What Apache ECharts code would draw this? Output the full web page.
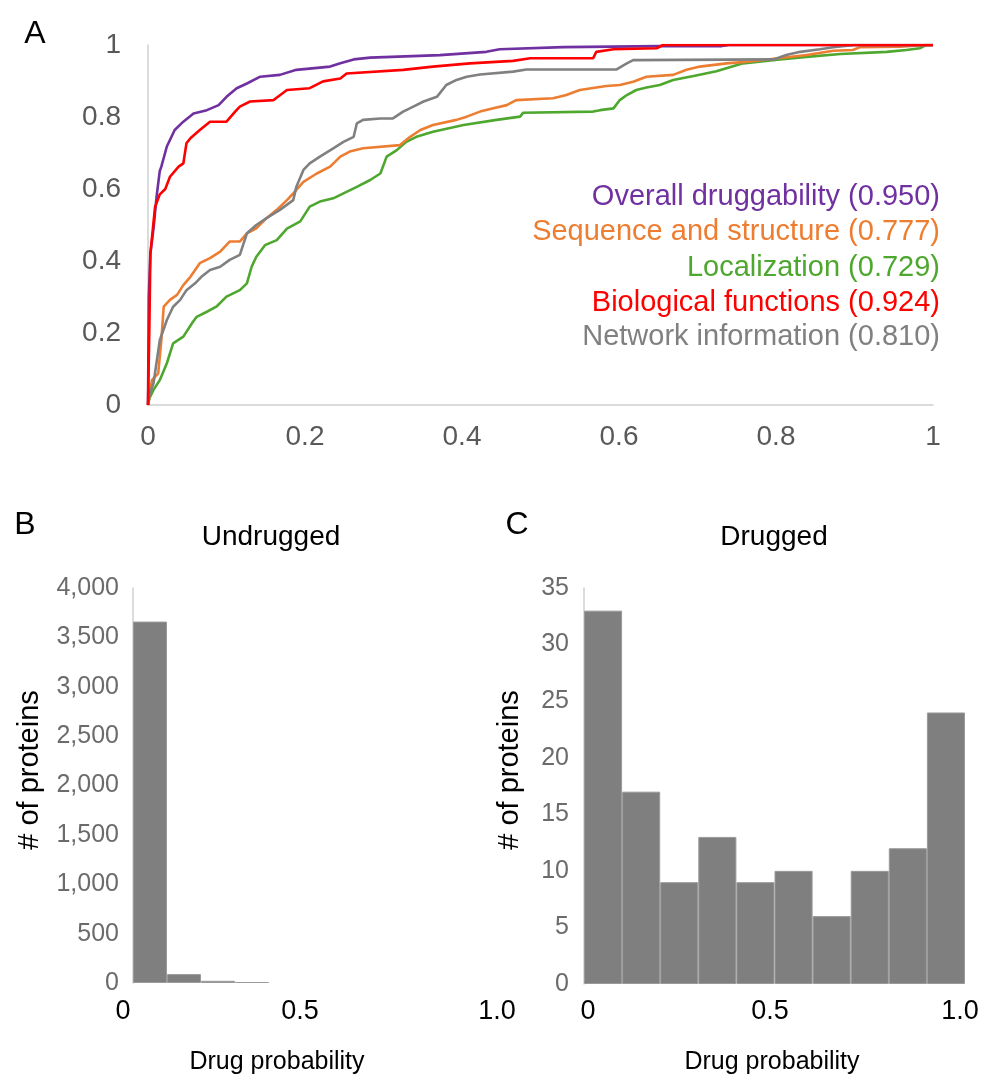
<!DOCTYPE html>
<html><head><meta charset="utf-8">
<script src="https://cdn.jsdelivr.net/npm/echarts@6/dist/echarts.min.js"></script>
<style>html,body{margin:0;padding:0;background:#fff}#c{width:982px;height:1076px}</style>
</head><body><div id="c"></div>
<script>
// ---------- Data ----------
const rocNames = ['Overall druggability', 'Sequence and structure', 'Localization', 'Biological functions', 'Network information'];
const rocAuc = ['0.950', '0.777', '0.729', '0.924', '0.810'];

const overallROC = [[0,0],[0.001,0.30],[0.003,0.42],[0.007,0.49],[0.011,0.58],[0.015,0.65],[0.017,0.662],[0.024,0.718],[0.034,0.764],[0.045,0.787],[0.058,0.81],[0.075,0.819],[0.09,0.833],[0.1,0.856],[0.113,0.88],[0.126,0.893],[0.143,0.912],[0.168,0.917],[0.189,0.931],[0.232,0.94],[0.245,0.949],[0.262,0.96],[0.283,0.965],[0.372,0.972],[0.431,0.981],[0.448,0.988],[0.529,0.994],[0.652,0.997],[0.731,0.997],[0.74,1],[1,1]];
const sequenceROC = [[0,0],[0.002,0.03],[0.005,0.069],[0.013,0.088],[0.017,0.18],[0.02,0.273],[0.028,0.292],[0.037,0.306],[0.045,0.333],[0.054,0.356],[0.066,0.394],[0.079,0.408],[0.092,0.426],[0.104,0.454],[0.117,0.454],[0.126,0.477],[0.138,0.491],[0.151,0.519],[0.164,0.542],[0.177,0.569],[0.185,0.588],[0.198,0.62],[0.215,0.643],[0.232,0.662],[0.245,0.69],[0.257,0.704],[0.274,0.713],[0.321,0.722],[0.334,0.745],[0.347,0.764],[0.363,0.778],[0.393,0.792],[0.406,0.801],[0.423,0.815],[0.44,0.824],[0.457,0.833],[0.469,0.847],[0.516,0.852],[0.533,0.861],[0.55,0.875],[0.584,0.886],[0.601,0.889],[0.618,0.898],[0.635,0.912],[0.669,0.917],[0.686,0.931],[0.703,0.94],[0.737,0.949],[0.767,0.954],[0.839,0.972],[0.873,0.984],[0.898,0.986],[0.907,0.994],[0.958,0.995],[0.991,1],[1,1]];
const localizationROC = [[0,0],[0.002,0.02],[0.007,0.042],[0.015,0.069],[0.024,0.116],[0.032,0.171],[0.045,0.19],[0.056,0.227],[0.062,0.245],[0.075,0.259],[0.087,0.273],[0.1,0.301],[0.117,0.319],[0.126,0.338],[0.132,0.384],[0.138,0.412],[0.149,0.444],[0.164,0.458],[0.177,0.49],[0.194,0.51],[0.206,0.551],[0.219,0.565],[0.236,0.574],[0.249,0.588],[0.266,0.606],[0.283,0.625],[0.296,0.643],[0.304,0.69],[0.317,0.708],[0.329,0.731],[0.342,0.745],[0.363,0.759],[0.402,0.778],[0.444,0.792],[0.474,0.801],[0.478,0.812],[0.567,0.815],[0.576,0.819],[0.593,0.824],[0.601,0.847],[0.61,0.861],[0.622,0.875],[0.635,0.882],[0.652,0.889],[0.669,0.903],[0.695,0.914],[0.724,0.927],[0.758,0.949],[0.805,0.96],[0.839,0.967],[0.882,0.975],[0.941,0.981],[0.966,0.986],[0.983,0.991],[0.991,1],[1,1]];
const biologicalROC = [[0,0],[0.002,0.25],[0.003,0.42],[0.009,0.55],[0.015,0.585],[0.022,0.60],[0.028,0.634],[0.039,0.662],[0.045,0.671],[0.049,0.727],[0.054,0.741],[0.066,0.764],[0.079,0.787],[0.1,0.787],[0.111,0.815],[0.117,0.829],[0.13,0.843],[0.16,0.847],[0.177,0.875],[0.206,0.88],[0.223,0.899],[0.245,0.907],[0.253,0.921],[0.325,0.931],[0.363,0.94],[0.41,0.949],[0.465,0.956],[0.487,0.963],[0.567,0.963],[0.571,0.981],[0.593,0.988],[0.648,0.991],[0.656,1],[1,1]];
const networkROC = [[0,0],[0.002,0.03],[0.007,0.06],[0.015,0.18],[0.024,0.236],[0.032,0.273],[0.041,0.292],[0.049,0.319],[0.06,0.338],[0.068,0.356],[0.079,0.375],[0.092,0.384],[0.104,0.403],[0.117,0.417],[0.126,0.477],[0.138,0.5],[0.151,0.519],[0.168,0.542],[0.185,0.569],[0.189,0.606],[0.198,0.653],[0.206,0.671],[0.219,0.69],[0.236,0.713],[0.249,0.731],[0.262,0.745],[0.266,0.782],[0.274,0.792],[0.296,0.796],[0.312,0.796],[0.325,0.815],[0.338,0.829],[0.351,0.843],[0.368,0.856],[0.38,0.889],[0.393,0.903],[0.406,0.912],[0.423,0.918],[0.465,0.926],[0.482,0.932],[0.597,0.932],[0.61,0.949],[0.618,0.958],[0.797,0.96],[0.813,0.972],[0.831,0.981],[0.856,0.988],[0.873,0.994],[0.9,1],[1,1]];

const histBins = ['0-0.1','0.1-0.2','0.2-0.3','0.3-0.4','0.4-0.5','0.5-0.6','0.6-0.7','0.7-0.8','0.8-0.9','0.9-1.0'];
const undruggedCounts = [3660, 90, 22, 10, 0, 0, 0, 0, 0, 0];
const druggedCounts = [33, 17, 9, 13, 9, 10, 6, 10, 12, 24];
const histXTickLabels = ['0', '0.5', '1.0'];
const panelTitles = ['Undrugged', 'Drugged'];
const histXName = 'Drug probability';
const histYName = '# of proteins';
const panelLetters = ['A', 'B', 'C'];

// ---------- Chart ----------
const FONT = "'Liberation Sans', Arial, Helvetica, sans-serif";
const chart = echarts.init(document.getElementById('c'), null, {renderer: 'canvas'});

const rocData = [overallROC, sequenceROC, localizationROC, biologicalROC, networkROC];
const rocColors = ['#7030a0', '#ed7d31', '#4ea72e', '#ff0000', '#808080'];
const drawOrder = [2, 1, 4, 0, 3];

const rocSeries = drawOrder.map(i => ({
  name: rocNames[i], type: 'line', xAxisIndex: 0, yAxisIndex: 0,
  data: rocData[i], showSymbol: false, symbol: 'none', animation: false,
  lineStyle: {color: rocColors[i], width: 2.6}, z: 3
}));

// empty bins are not drawn (no zero-height outline)
const emptyAsGap = arr => arr.map(v => (v === 0 ? '-' : v));
const barStyle = {color: '#7f7f7f', borderColor: '#9a9a9a', borderWidth: 1};
const histSeries = [
  {type: 'bar', xAxisIndex: 1, yAxisIndex: 1, data: emptyAsGap(undruggedCounts), barCategoryGap: '0%', itemStyle: barStyle, animation: false},
  {type: 'bar', xAxisIndex: 2, yAxisIndex: 2, data: emptyAsGap(druggedCounts), barCategoryGap: '0%', itemStyle: barStyle, animation: false}
];

const axisLineStyle = {color: '#d0d0d0', width: 1.5};
const text = (t, x, y, opts) => ({
  type: 'text', x: x, y: y,
  style: Object.assign({text: t, font: '27px ' + FONT, fill: '#000', textAlign: 'center', textVerticalAlign: 'middle'}, opts || {})
});

const legendY = [197, 232, 268, 303, 337];
const graphics = [];
rocNames.forEach((n, i) => {
  graphics.push(text(n + ' (' + rocAuc[i] + ')', 940, legendY[i], {fill: rocColors[i], textAlign: 'right', font: '29px ' + FONT}));
});
graphics.push(text(panelLetters[0], 35, 34, {font: '32px ' + FONT}));
graphics.push(text(panelLetters[1], 25, 525, {font: '32px ' + FONT}));
graphics.push(text(panelLetters[2], 517, 525, {font: '32px ' + FONT}));
graphics.push(text(panelTitles[0], 271, 537, {font: '28px ' + FONT}));
graphics.push(text(panelTitles[1], 774, 537, {font: '28px ' + FONT}));
graphics.push(text(histXName, 277, 1062, {font: '25px ' + FONT}));
graphics.push(text(histXName, 772, 1062, {font: '25px ' + FONT}));
graphics.push(Object.assign(text(histYName, 30, 770, {font: '29px ' + FONT}), {rotation: Math.PI / 2}));
graphics.push(Object.assign(text(histYName, 510, 770, {font: '29px ' + FONT}), {rotation: Math.PI / 2}));
const bTickX = [123, 300, 497];
const cTickX = [588, 770, 960];
histXTickLabels.forEach((t, i) => {
  graphics.push(text(t, bTickX[i], 1012));
  graphics.push(text(t, cTickX[i], 1012));
});

chart.setOption({
  backgroundColor: '#fff',
  textStyle: {fontFamily: FONT},
  animation: false,
  grid: [
    {left: 148, top: 45, width: 785, height: 360},
    {left: 133, top: 588, width: 340, height: 395},
    {left: 584, top: 588, width: 381, height: 396}
  ],
  xAxis: [
    {gridIndex: 0, type: 'value', min: 0, max: 1, interval: 0.2,
     axisLine: {show: true, lineStyle: axisLineStyle}, axisTick: {show: false}, splitLine: {show: false},
     axisLabel: {color: '#595959', fontSize: 28, margin: 18, fontFamily: FONT}},
    {gridIndex: 1, type: 'category', data: histBins, boundaryGap: true,
     axisLine: {show: false}, axisTick: {show: false}, axisLabel: {show: false}},
    {gridIndex: 2, type: 'category', data: histBins, boundaryGap: true,
     axisLine: {show: false}, axisTick: {show: false}, axisLabel: {show: false}}
  ],
  yAxis: [
    {gridIndex: 0, type: 'value', min: 0, max: 1, interval: 0.2,
     axisLine: {show: true, lineStyle: axisLineStyle}, axisTick: {show: false}, splitLine: {show: false},
     axisLabel: {color: '#595959', fontSize: 28, margin: 27, fontFamily: FONT}},
    {gridIndex: 1, type: 'value', min: 0, max: 4000, interval: 500,
     axisLine: {show: true, lineStyle: axisLineStyle}, axisTick: {show: false}, splitLine: {show: false},
     axisLabel: {color: '#6b6b6b', fontSize: 25, margin: 14, fontFamily: FONT}},
    {gridIndex: 2, type: 'value', min: 0, max: 35, interval: 5,
     axisLine: {show: true, lineStyle: axisLineStyle}, axisTick: {show: false}, splitLine: {show: false},
     axisLabel: {color: '#6b6b6b', fontSize: 25, margin: 15, fontFamily: FONT}}
  ],
  series: rocSeries.concat(histSeries),
  graphic: graphics
});
</script>
</body></html>
